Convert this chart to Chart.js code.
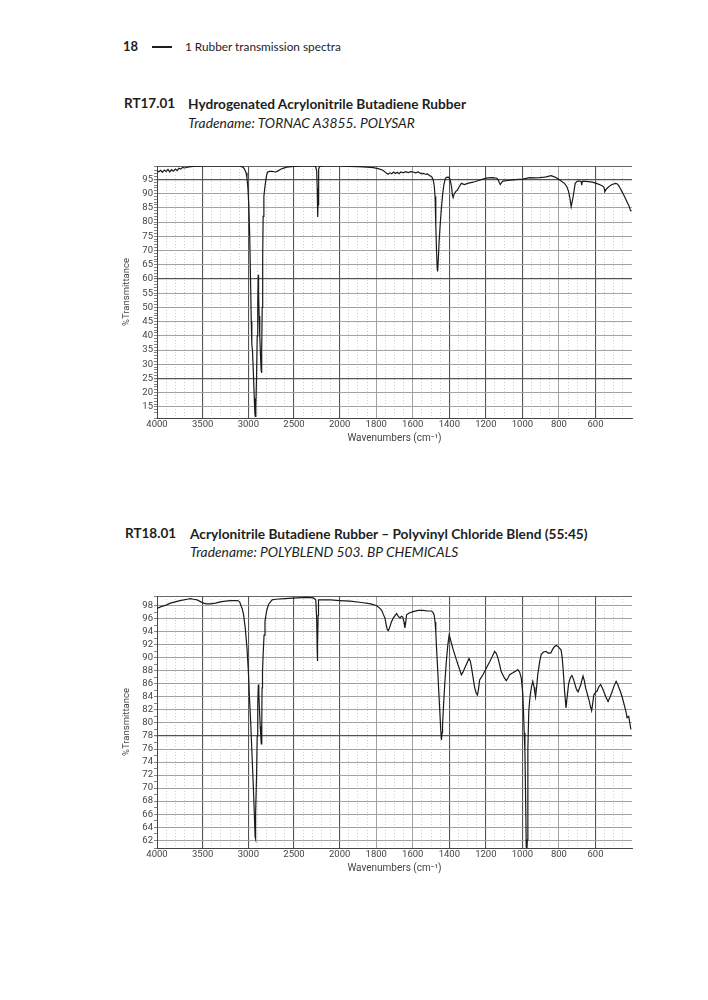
<!DOCTYPE html>
<html>
<head>
<meta charset="utf-8">
<script src="https://cdn.jsdelivr.net/npm/chart.js@4.4.1/dist/chart.umd.min.js"></script>
<style>
  body { margin: 0; background: #fff; width: 708px; height: 1000px; position: relative; font-family: Lato, "Open Sans", sans-serif; color: #1e1e1e; }
  .t { position: absolute; white-space: nowrap; line-height: 1; }
  .b { font-weight: 700; }
  .i { font-style: italic; }
  .box { position: absolute; left: 100px; width: 560px; height: 310px; }
</style>
</head>
<body>
<div class="t b" style="left:123px; top:40px; font-size:13px;">18</div>
<div style="position:absolute; left:152px; top:46px; width:20px; height:2px; background:#1e1e1e;"></div>
<div class="t" style="left:185px; top:41px; font-size:11.8px;">1 Rubber transmission spectra</div>

<div class="t b" style="left:124px; top:97px; font-size:13.5px;">RT17.01</div>
<div class="t b" style="left:188px; top:97px; font-size:13.7px;">Hydrogenated Acrylonitrile Butadiene Rubber</div>
<div class="t i" style="left:188px; top:116px; font-size:13.8px;">Tradename: TORNAC A3855. POLYSAR</div>
<div class="box" style="top:150px;"><canvas id="chart1"></canvas></div>

<div class="t b" style="left:125px; top:527px; font-size:13.5px;">RT18.01</div>
<div class="t b" style="left:190px; top:527px; font-size:13.7px;">Acrylonitrile Butadiene Rubber – Polyvinyl Chloride Blend (55:45)</div>
<div class="t i" style="left:190px; top:545px; font-size:13.8px;">Tradename: POLYBLEND 503. BP CHEMICALS</div>
<div class="box" style="top:580px;"><canvas id="chart2"></canvas></div>

<script>
// RT17.01 spectrum (wavenumber cm-1 / %T)
const waveA = [4000,3980,3960,3940,3920,3900,3880,3860,3840,3820,3800,3780,3760,3740,3720,3700,3650,3600,3500,3300,3100,3060,3040,3025,3015,3005,2995,2985,2975,2968,2962,2955,2945,2935,2928,2924,2918,2910,2903,2897,2892,2888,2882,2875,2868,2860,2856,2852,2848,2843,2838,2830,2820,2810,2800,2790,2770,2740,2700,2680,2660,2630,2580,2500,2400,2300,2265,2252,2246,2242,2240,2237,2233,2228,2220,2150,2000,1950,1900,1850,1816,1790,1770,1760,1745,1735,1725,1715,1705,1695,1685,1675,1665,1652,1640,1625,1610,1597,1585,1570,1555,1543,1530,1520,1506,1495,1488,1482,1478,1474,1470,1466,1464,1460,1456,1450,1443,1436,1430,1422,1415,1405,1398,1392,1388,1383,1379,1374,1365,1355,1345,1334,1317,1300,1270,1240,1216,1190,1161,1140,1134,1126,1121,1115,1106,1080,1052,1020,997,961,930,906,880,870,843,825,807,790,770,757,747,740,733,728,722,716,711,699,685,678,675,672,668,640,617,595,572,560,554,551,549,544,536,520,509,491,480,473,464,455,445,436,425,415,409,403];
const transA = [98.0,97.7,98.2,97.5,98.3,97.8,98.5,97.6,98.4,97.9,98.6,98.1,98.9,98.6,99.2,99.0,99.4,99.6,99.7,99.8,99.7,99.3,98.5,97.3,95.5,92,86,75,58,45,37,35,27,18,12.5,11.7,15,26,40,52,61.5,55,47,40,34,28,27,35,50,68,82,89,92,94.5,96.5,97.5,97.8,97.8,97.6,97.9,98.3,98.8,99.3,99.6,99.7,99.8,99.6,98,92,84,81.8,86,94,98.5,99.6,99.8,99.7,99.6,99.5,99.3,99.1,98.8,98.4,98.0,97.2,96.8,97.3,97.0,97.6,97.1,97.5,97.0,97.6,97.3,97.7,97.4,97.7,97.6,97.3,97.6,97.0,97.1,96.8,96.9,96.3,95.8,94.8,92.5,89,79,70,63.5,62.6,67,73,79,85,90,93,95.3,95.7,95.8,95.3,93.8,92.5,89.5,88.6,89.8,90.7,91.3,92.5,93.6,93.2,93.6,94,94.6,95.1,95.5,95.6,95.4,95.0,93.8,93.2,93.8,94.4,94.6,94.8,95.0,95.1,95.6,95.5,95.6,95.8,95.9,96.3,95.9,95.3,94.5,93.6,92.5,90.7,88.5,85.4,87,89,91.5,93.6,94.4,94.4,94.2,93.0,94.3,94.4,94.2,94.0,93.6,93,92.6,92.3,91.5,90.7,91.2,91.9,92.8,93.2,93.6,93.4,92.8,91.8,90.7,89.5,88.3,86.8,85.5,84.2,83.8];

// RT18.01 spectrum
const waveB = [4000,3950,3900,3853,3800,3750,3707,3670,3634,3600,3561,3520,3490,3460,3416,3360,3307,3250,3197,3118,3095,3085,3075,3068,3052,3034,3015,3000,2988,2975,2960,2945,2932,2926,2923,2918,2910,2903,2897,2890,2885,2878,2870,2862,2858,2853,2850,2845,2838,2828,2818,2800,2780,2740,2700,2600,2469,2360,2287,2262,2252,2246,2244,2241,2236,2232,2178,2100,2000,1943,1880,1830,1797,1780,1770,1760,1752,1745,1739,1733,1725,1717,1707,1697,1688,1680,1670,1662,1655,1648,1643,1638,1634,1620,1598,1570,1543,1520,1497,1488,1483,1478,1474,1469,1464,1458,1452,1447,1443,1440,1437,1431,1425,1420,1415,1408,1401,1395,1388,1379,1370,1361,1352,1343,1334,1325,1316,1305,1292,1285,1279,1270,1261,1253,1246,1240,1234,1225,1216,1200,1179,1165,1152,1143,1134,1125,1116,1100,1088,1079,1070,1052,1035,1025,1015,1006,998,994,990,986,982,979,975,973,970,965,960,957,950,943,936,932,928,922,916,905,897,885,870,857,843,835,825,815,807,797,788,782,776,768,761,755,747,738,729,720,713,707,701,695,688,680,674,668,661,654,645,636,628,621,615,609,600,591,581,572,563,554,543,531,520,509,498,487,478,470,463,452,440,432,427,418,412,406];
const transB = [97.6,97.9,98.1,98.4,98.6,98.8,98.9,99.0,99.1,99.0,98.9,98.6,98.4,98.3,98.3,98.4,98.6,98.7,98.8,98.8,98.6,98.2,97.8,97.6,96.6,94.6,91.5,88,84,80.3,75.2,70.1,65,62.5,62.2,66,72,78,83,85.9,84.5,82,79.5,77.5,76.8,79.5,85.4,88,90.5,93.5,95.6,97.2,98.2,98.9,99.0,99.1,99.2,99.3,99.2,98.9,96,91,89.5,92,96.5,98.9,98.9,98.9,98.8,98.7,98.5,98.3,98.0,97.6,97.3,96.6,96.1,95.0,94.3,94.2,94.8,95.5,96.1,96.5,96.8,96.4,96.1,96.4,96.3,95.5,94.6,95.6,96.6,96.9,97.1,97.3,97.3,97.2,97.2,96.9,96.6,95.5,94,91,88.4,85,81.8,79,77.4,78.5,79.7,83,85.9,88,89.9,92,93.5,93,92.2,91.3,90.5,89.7,88.9,88.2,87.4,87.8,88.4,89.1,89.9,89.5,88.6,87,85.4,84.6,84.3,85.2,86.6,87,87.4,88.3,89.4,90.2,91,90.7,90,89,87.9,87,86.5,86.9,87.4,87.7,88,88.2,87.8,86.9,84.5,81.8,78.5,75.6,68,61,60.5,62,76,81.8,83.5,84.3,85.6,86.4,85.5,84.7,84,85.5,87.4,89.5,90.5,90.9,91,90.7,90.8,91.3,91.7,91.9,91.8,91.5,91.2,90,87.9,84.5,82.3,84,86,86.9,87.3,86.7,86,85.4,85,84.8,85.3,85.9,86.6,87.2,86.5,85.4,84.5,83.6,82.6,81.9,83,84.3,84.7,84.9,85.6,85.9,85.4,84.8,84,83.3,84,84.8,85.7,86.4,85.9,85.3,84.8,83.8,82.5,81.6,80.8,81,80,79];

const majorUpper = [4000, 3500, 3000, 2500, 2000];
const majorLower = [1800, 1600, 1400, 1200, 1000, 800, 600];
const darkX = [3500, 3000, 2500, 2000, 1400, 1200, 1000, 600];
const yLabelsA = [95, 90, 85, 80, 75, 70, 65, 60, 55, 50, 45, 40, 35, 30, 25, 20, 15];
const darkYA = [95, 60, 25];
const yLabelsB = [98, 96, 94, 92, 90, 88, 86, 84, 82, 80, 78, 76, 74, 72, 70, 68, 66, 64, 62];
const darkYB = [78];

// IR axis: 4000-2000 at half scale, 2000-400 at full scale
const SPLIT = 2000;
class WaveScale extends Chart.LinearScale {
  buildTicks() {
    const t = [];
    for (let v = 4000; v >= SPLIT; v -= 100) t.push({ value: v });
    for (let v = SPLIT - 50; v >= 400; v -= 50) t.push({ value: v });
    return t;
  }
  getPixelForValue(v) {
    const p = v >= SPLIT ? (4000 - v) / 2 : (4000 - SPLIT) / 2 + (SPLIT - v);
    return this.left + this.width * p / 2600;
  }
}
WaveScale.id = 'wave';
WaveScale.defaults = Chart.LinearScale.defaults;
Chart.register(WaveScale);

const tickFont = { family: 'Roboto', size: 9.5 };
const isMajorX = v => majorUpper.includes(v) || majorLower.includes(v);

function makeChart(id, waves, trans, yMin, yMax, yLabels, darkY) {
  const pts = waves.map((w, i) => ({ x: w, y: trans[i] }));
  return new Chart(document.getElementById(id), {
    type: 'line',
    data: { datasets: [{ data: pts, borderColor: '#1a1a1a', borderWidth: 1.2, pointRadius: 0, tension: 0 }] },
    options: {
      responsive: false, animation: false, events: [],
      layout: { padding: { left: 0, top: 16, right: 28, bottom: 0 } },
      plugins: { legend: { display: false }, tooltip: { enabled: false } },
      scales: {
        x: {
          type: 'wave', min: 400, max: 4000,
          afterFit: s => { s.height = 42; },
          grid: {
            drawTicks: false,
            color: c => c.tick.value === 400 ? 'rgba(0,0,0,0)' : darkX.includes(c.tick.value) ? '#555' : isMajorX(c.tick.value) ? '#8a8a8a' : '#c4c4c4',
            lineWidth: c => darkX.includes(c.tick.value) ? 1.1 : 0.8
          },
          border: { color: '#444', dash: c => (c.tick && !isMajorX(c.tick.value)) ? [1, 2] : [] },
          ticks: {
            autoSkip: false, maxRotation: 0, minRotation: 0, padding: 1, color: '#444', font: tickFont,
            callback: v => isMajorX(v) ? String(v) : ''
          },
          title: { display: true, text: 'Wavenumbers (cm⁻¹)', color: '#444', font: { family: 'Roboto', size: 10 }, padding: { top: 0, bottom: 16 } }
        },
        y: {
          min: yMin, max: yMax,
          afterFit: s => { s.width = 57; },
          grid: {
            tickLength: 3, tickColor: '#777',
            color: c => darkY.includes(c.tick.value) ? '#555' : yLabels.includes(c.tick.value) ? '#999' : (c.tick.value === yMax ? '#555' : 'rgba(0,0,0,0)'),
            lineWidth: c => darkY.includes(c.tick.value) ? 1.2 : 0.9
          },
          border: { color: '#444' },
          ticks: {
            stepSize: 1, autoSkip: false, padding: 1, color: '#444', font: tickFont,
            callback: v => yLabels.includes(v) ? String(v) : ''
          },
          title: { display: true, text: '%Transmittance', color: '#444', font: { family: 'Roboto', size: 9.5 }, padding: { top: 21, bottom: 0 } }
        }
      }
    }
  });
}

document.querySelectorAll('canvas').forEach(c => { c.width = 560; c.height = 310; });
makeChart('chart1', waveA, transA, 11.1, 99.7, yLabelsA, darkYA);
makeChart('chart2', waveB, transB, 60.8, 99.5, yLabelsB, darkYB);
</script>
</body>
</html>
